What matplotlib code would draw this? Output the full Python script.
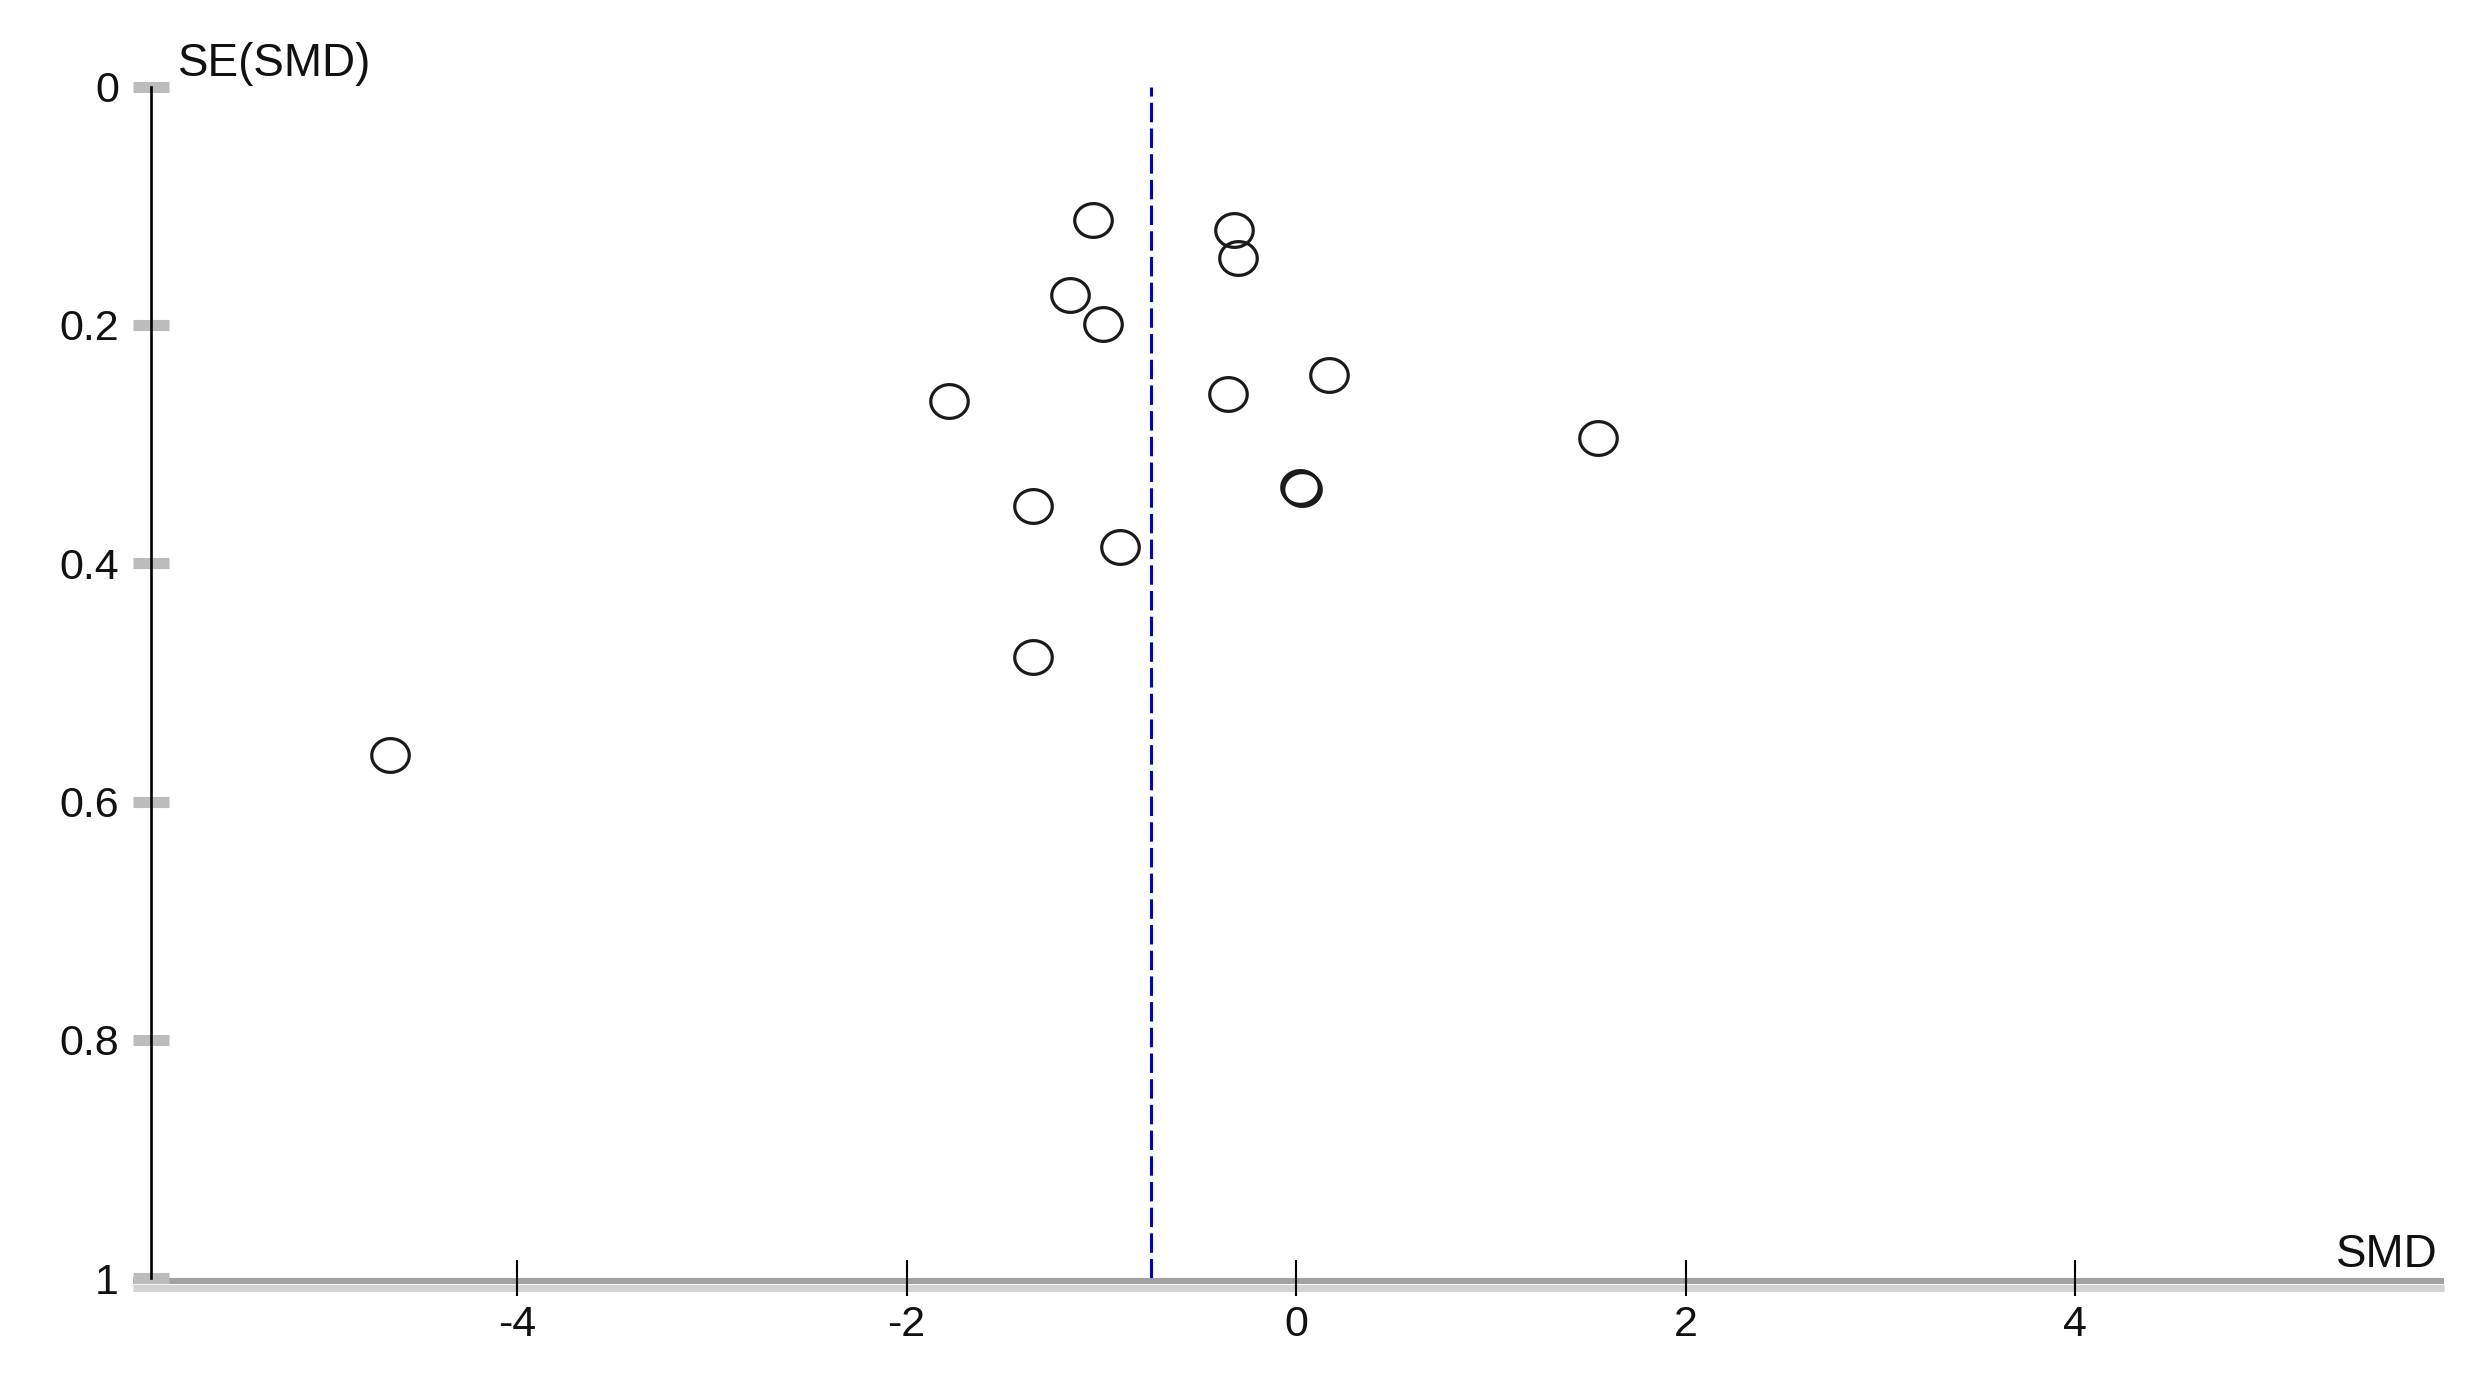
import matplotlib
matplotlib.use('Agg')
import matplotlib.pyplot as plt
import matplotlib.transforms as mtransforms
from matplotlib.path import Path
import numpy as np

# ---- data ----
smd = [-1.04, -0.32, -0.30, -1.16, -0.99, 0.17, -1.78, -0.35, 1.55, 0.02, 0.03, -1.35, -0.905, -1.35, -4.65]
se = [0.112, 0.120, 0.144, 0.175, 0.199, 0.242, 0.264, 0.258, 0.295, 0.336, 0.338, 0.352, 0.386, 0.479, 0.561]
pooled_smd = -0.745
x_ticks = [-4, -2, 0, 2, 4]
x_tick_labels = ['-4', '-2', '0', '2', '4']
y_ticks = [0, 0.2, 0.4, 0.6, 0.8, 1]
y_tick_labels = ['0', '0.2', '0.4', '0.6', '0.8', '1']
x_label = 'SMD'
y_label = 'SE(SMD)'

plt.rcParams['font.family'] = ['Liberation Sans', 'DejaVu Sans']
plt.rcParams['lines.scale_dashes'] = False

W, H, DPI = 2492, 1384, 100
fig = plt.figure(figsize=(W / DPI, H / DPI), dpi=DPI)
fig.patch.set_facecolor('white')

ax_left, ax_right, ax_top, ax_bot = 151, 2444, 86.7, 1278.2
ax = fig.add_axes([ax_left / W, (H - ax_bot) / H, (ax_right - ax_left) / W, (ax_bot - ax_top) / H])
ax.set_xlim(-5.879, 5.894)
ax.set_ylim(1, 0)
ax.set_facecolor('white')

for s in ['top', 'right', 'bottom']:
    ax.spines[s].set_visible(False)
ax.spines['left'].set_color('black')
ax.spines['left'].set_linewidth(1.9)
ax.spines['left'].set_zorder(5)

# x-axis gray band (two tones) below the axes bottom
ext = -18 / (ax_right - ax_left)
t_dark = mtransforms.offset_copy(ax.transAxes, fig=fig, y=-3, units='dots')
t_light = mtransforms.offset_copy(ax.transAxes, fig=fig, y=-9.5, units='dots')
ax.plot([ext, 1], [0, 0], transform=t_dark, color='#a2a2a2', lw=4.4,
        solid_capstyle='butt', clip_on=False, zorder=1)
ax.plot([ext, 1], [0, 0], transform=t_light, color='#d2d2d2', lw=5.0,
        solid_capstyle='butt', clip_on=False, zorder=1)

ax.set_xticks(x_ticks, x_tick_labels)
ax.set_yticks(y_ticks, y_tick_labels)
ax.tick_params(axis='x', direction='inout', length=26, width=1.5, color='black',
               pad=6, labelsize=31, labelcolor='#111111')
ax.tick_params(axis='y', direction='inout', length=26, width=8.0, color='#bcbcbc',
               pad=10, labelsize=31, labelcolor='#111111')
ax.xaxis.set_zorder(2)

# pooled estimate line
ax.axvline(pooled_smd, ymin=0, ymax=1, color='#0000d0', lw=2.2,
           linestyle=(0, (14, 4.5)), zorder=2)

# open elliptical markers
t = np.linspace(0, 2 * np.pi, 80)
ell = Path(np.column_stack([np.cos(t), 0.9 * np.sin(t)]), closed=True)
ax.plot(smd, se, linestyle='none', marker=ell, markersize=27,
        markerfacecolor='none', markeredgecolor='#1a1a1a', markeredgewidth=2.3,
        zorder=4)

fig.text(178 / W, 1 - 64 / H, y_label, fontsize=33, ha='left', va='center', color='#111111')
fig.text(2438 / W, 1 - 1255 / H, x_label, fontsize=33, ha='right', va='center', color='#111111')

fig.savefig('out.png', dpi=DPI, facecolor='white')
